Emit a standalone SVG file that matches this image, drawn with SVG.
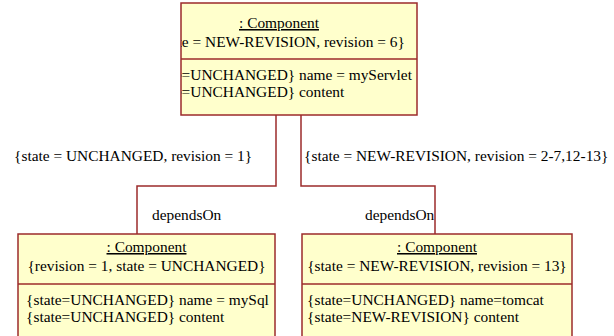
<svg xmlns="http://www.w3.org/2000/svg" width="614" height="336" viewBox="0 0 614 336">
  <style>
    .box { fill: #FFFFCC; stroke: #9C2B2B; stroke-width: 1.5; }
    .div { stroke: #9C2B2B; stroke-width: 1.5; }
    .conn { fill: none; stroke: #9C2B2B; stroke-width: 1.5; }
    .t { font-family: "Liberation Serif", "Times New Roman", "DejaVu Serif", serif; font-size: 15.4px; fill: #000000; }
    .title { text-anchor: middle; text-decoration: underline; }
    .mid { text-anchor: middle; }
  </style>
  <defs>
    <clipPath id="clipTop">
      <rect x="181" y="3" width="236" height="112"/>
    </clipPath>
  </defs>

  <!-- links between the components -->
  <g id="connectors" class="t" font-family="Liberation Serif, serif">
    <polyline class="conn" points="276,115 276,186 137,186 137,234"/>
    <polyline class="conn" points="301,115 301,186 435,186 435,234"/>
    <text x="14" y="161">{state = UNCHANGED, revision = 1}</text>
    <text x="304" y="161">{state = NEW-REVISION, revision = 2-7,12-13}</text>
    <text x="152" y="220">dependsOn</text>
    <text x="365" y="220">dependsOn</text>
  </g>

  <!-- servlet component -->
  <g id="component-servlet" class="t" font-family="Liberation Serif, serif">
    <rect class="box" x="181" y="3" width="236" height="112"/>
    <line class="div" x1="181" y1="59" x2="417" y2="59"/>
    <g clip-path="url(#clipTop)">
      <text class="title" x="279" y="28">: Component</text>
      <text class="mid" x="279" y="47">{state = NEW-REVISION, revision = 6}</text>
      <text x="146" y="80">{state=UNCHANGED} name = myServlet</text>
      <text x="146" y="97">{state=UNCHANGED} content</text>
    </g>
  </g>

  <!-- mysql component -->
  <g id="component-mysql" class="t" font-family="Liberation Serif, serif">
    <rect class="box" x="18" y="234" width="257" height="120"/>
    <line class="div" x1="18" y1="284" x2="275" y2="284"/>
    <text class="title" x="146.5" y="252">: Component</text>
    <text class="mid" x="146.5" y="271">{revision = 1, state = UNCHANGED}</text>
    <text x="26" y="305">{state=UNCHANGED} name = mySql</text>
    <text x="26" y="322">{state=UNCHANGED} content</text>
  </g>

  <!-- tomcat component -->
  <g id="component-tomcat" class="t" font-family="Liberation Serif, serif">
    <rect class="box" x="302" y="234" width="270" height="120"/>
    <line class="div" x1="302" y1="284" x2="572" y2="284"/>
    <text class="title" x="437" y="252">: Component</text>
    <text class="mid" x="437" y="271">{state = NEW-REVISION, revision = 13}</text>
    <text x="307" y="305">{state=UNCHANGED} name=tomcat</text>
    <text x="307" y="322">{state=NEW-REVISION} content</text>
  </g>
</svg>
